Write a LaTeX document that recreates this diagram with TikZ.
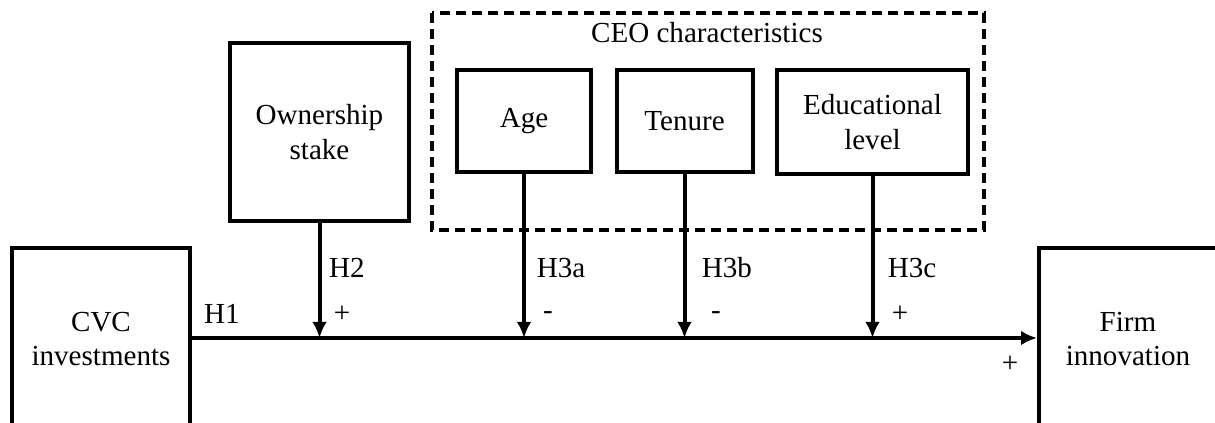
\documentclass[tikz,border=0pt]{standalone}
\usepackage{fontspec}
\setmainfont{Liberation Serif}
\usetikzlibrary{arrows.meta}
\usetikzlibrary{positioning}

\tikzset{
  varbox/.style={draw, line width=3pt, align=center, inner sep=0pt},
  link/.style={line width=3pt, -{Latex[length=12pt, width=11pt]}},
  hyp/.style={inner sep=0pt, anchor=center}
}

\begin{document}
\begin{tikzpicture}[x=0.75pt, y=-0.75pt, font=\fontsize{21.8}{26}\selectfont]

      \useasboundingbox (0, 0) rectangle (1215, 423);
      \clip (0, 0) rectangle (1215, 423);

      % ceo group
      \draw [line width=3pt, dash pattern=on 7.5pt off 4.5pt] (432, 13) rectangle (984, 230);
      \node [hyp] (ceo) at (707, 33) {CEO characteristics};

      \node [varbox, minimum width=101pt, minimum height=76.5pt] (age) at (524, 121) {Age};
      \node [varbox, minimum width=102pt, minimum height=76.5pt] (tenure) at (684.5, 121) {Tenure};
      \node [varbox, minimum width=143pt, minimum height=78pt] (edu) at (872.5, 122) {Educational\\level};

      \node [varbox, minimum width=134pt, minimum height=133.5pt] (own) at (319.5, 132) {Ownership\\stake};

      % main variables
      \node [varbox, minimum width=133.5pt, minimum height=136.5pt] (cvc) at (101, 339) {CVC\\investments};
      \node [varbox, minimum width=133.5pt, minimum height=136.5pt] (firm) at (1128, 339) {Firm\\innovation};

      \draw [link] (cvc.east |- 0, 338) -- (firm.west |- 0, 338);

      \coordinate (mown) at (own.south |- 0, 338);
      \coordinate (mage) at (age.south |- 0, 338);
      \coordinate (mten) at (tenure.south |- 0, 338);
      \coordinate (medu) at (edu.south |- 0, 338);

      \draw [link] (own.south) -- (mown);
      \draw [link] (age.south) -- (mage);
      \draw [link] (tenure.south) -- (mten);
      \draw [link] (edu.south) -- (medu);

      % hypotheses
      \node [hyp] (h1) at (222, 314) {H1};
      \node [hyp] (h2) at (347, 268) {H2};
      \node [hyp] (s2) at (342, 314) {+};
      \node [hyp] (h3a) at (561, 268) {H3a};
      \node [hyp] (s3a) at (548, 316) {-};
      \node [hyp] (h3b) at (727, 268) {H3b};
      \node [hyp] (s3b) at (716, 316) {-};
      \node [hyp] (h3c) at (912, 268) {H3c};
      \node [hyp] (s3c) at (900, 314) {+};
      \node [hyp] (s1) at (1010, 364) {+};

    \end{tikzpicture}
\end{document}
